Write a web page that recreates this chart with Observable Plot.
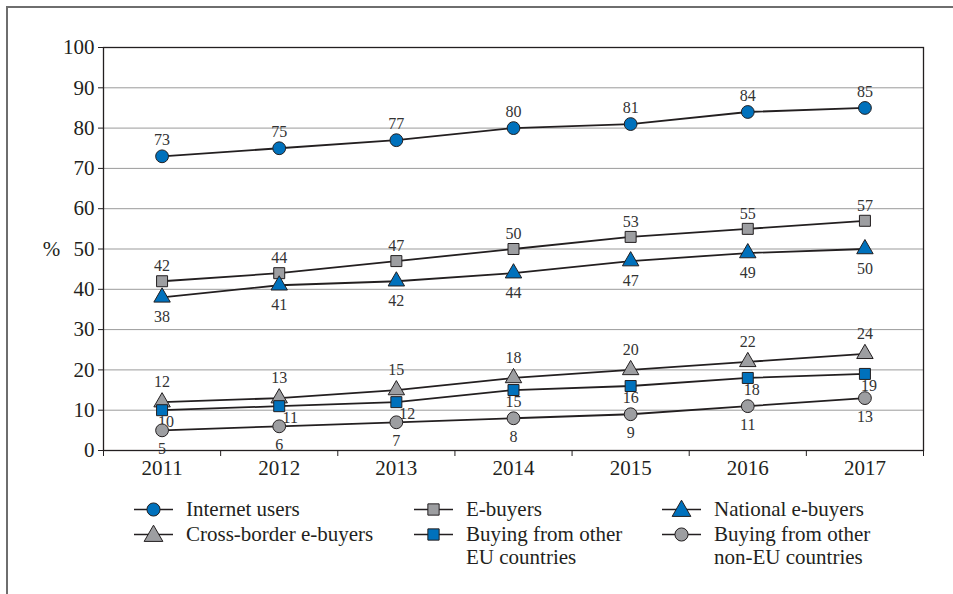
<!DOCTYPE html>
<html>
<head>
<meta charset="utf-8">
<script src="https://cdn.jsdelivr.net/npm/d3@7"></script>
<script src="https://cdn.jsdelivr.net/npm/@observablehq/plot@0.6"></script>
<style>
  html, body { margin: 0; padding: 0; background: #fff; }
  #wrap { position: relative; width: 953px; height: 594px; overflow: hidden; font-family: "Liberation Serif", Tinos, "Times New Roman", Times, serif; color: #231f20; }
  #border { position: absolute; left: 6px; top: 6px; width: 960px; height: 600px; border-top: 2px solid #6e6e6e; border-left: 2px solid #6e6e6e; }
  #chart { position: absolute; left: 0; top: 0; }
  #chart svg text { font-family: "Liberation Serif", Tinos, "Times New Roman", Times, serif; }
  .item { position: absolute; display: flex; align-items: flex-start; font-size: 21px; line-height: 23px; }
  .item svg { flex: none; }
  .item span { margin-left: 13px; white-space: nowrap; }
</style>
</head>
<body>
<div id="wrap">
  <div id="border"></div>
  <div id="chart"></div>
  <div id="legend"></div>
</div>
<script>
// ---- data ----
const years = [2011, 2012, 2013, 2014, 2015, 2016, 2017];
const seriesNames = ["Internet users", "E-buyers", "National e-buyers", "Cross-border e-buyers", "Buying from other EU countries", "Buying from other non-EU countries"];
const legendLabels = ["Internet users", "E-buyers", "National e-buyers", "Cross-border e-buyers", "Buying from other<br>EU countries", "Buying from other<br>non-EU countries"];
const internetUsers = [73, 75, 77, 80, 81, 84, 85];
const eBuyers = [42, 44, 47, 50, 53, 55, 57];
const nationalEBuyers = [38, 41, 42, 44, 47, 49, 50];
const crossBorderEBuyers = [12, 13, 15, 18, 20, 22, 24];
const buyingOtherEU = [10, 11, 12, 15, 16, 18, 19];
const buyingNonEU = [5, 6, 7, 8, 9, 11, 13];
const yTicks = [0, 10, 20, 30, 40, 50, 60, 70, 80, 90, 100];

// ---- styles ----
const FONT = '"Liberation Serif", Tinos, "Times New Roman", Times, serif';
const BLUE = "#0071bc", GRAY = "#9d9ea1", INK = "#231f20";
const seriesValues = [internetUsers, eBuyers, nationalEBuyers, crossBorderEBuyers, buyingOtherEU, buyingNonEU];
const styles = [
  {symbol: "circle", fill: BLUE, r: 6.4, dy: -16},
  {symbol: "square", fill: GRAY, r: 6.2, dy: -15},
  {symbol: "triangle", fill: BLUE, r: 6.1, dy: 20},
  {symbol: "triangle", fill: GRAY, r: 6.1, dy: -20},
  {symbol: "square", fill: BLUE, r: 6.2, dy: 12},
  {symbol: "circle", fill: GRAY, r: 6.4, dy: 19}
];

const rows = seriesNames.flatMap((name, s) => years.map((year, i) => ({series: name, s, year, value: seriesValues[s][i]})));
const boundaries = [years[0] - 0.5, ...years.map(y => y + 0.5)];

const marks = [
  Plot.gridY(yTicks.filter(t => t > 0 && t < 100), {stroke: "#9b9b9b", strokeOpacity: 1, strokeWidth: 1}),
  Plot.frame({stroke: INK, strokeWidth: 1.3}),
  Plot.axisY(yTicks, {tickSize: 5, tickPadding: 4, label: null, stroke: INK}),
  Plot.axisX(boundaries, {tickSize: 6, tickFormat: () => "", label: null, stroke: INK}),
  Plot.axisX(years, {tickSize: 0, tickPadding: 10, tickFormat: d => String(d), label: null}),
  Plot.text(["%"], {frameAnchor: "left", dx: -52, textAnchor: "middle", fontSize: 21})
];

seriesNames.forEach((name, s) => {
  const data = rows.filter(d => d.s === s);
  marks.push(Plot.line(data, {x: "year", y: "value", stroke: INK, strokeWidth: 1.8}));
});
seriesNames.forEach((name, s) => {
  const data = rows.filter(d => d.s === s);
  const st = styles[s];
  marks.push(Plot.dot(data, {x: "year", y: "value", symbol: st.symbol, r: st.r, fill: st.fill, stroke: INK, strokeWidth: 1}));
  if (s === 4) {
    marks.push(Plot.text(data.filter(d => d.year === 2012 || d.year === 2013), {x: "year", y: "value", text: "value", dy: st.dy, dx: 11, fontSize: 16, fill: "#333"}));
    marks.push(Plot.text(data.filter(d => d.year === 2011 || d.year >= 2016), {x: "year", y: "value", text: "value", dy: st.dy, dx: 4, fontSize: 16, fill: "#333"}));
    marks.push(Plot.text(data.filter(d => d.year === 2014 || d.year === 2015), {x: "year", y: "value", text: "value", dy: st.dy, fontSize: 16, fill: "#333"}));
  } else {
    marks.push(Plot.text(data, {x: "year", y: "value", text: "value", dy: st.dy, fontSize: 16, fill: "#333"}));
  }
});

const chart = Plot.plot({
  width: 953,
  height: 485,
  marginLeft: 103,
  marginRight: 30,
  marginTop: 47,
  marginBottom: 35,
  x: {domain: [boundaries[0], boundaries[boundaries.length - 1]]},
  y: {domain: [0, 100]},
  style: {fontFamily: FONT, fontSize: "21px", color: INK, background: "transparent"},
  marks
});
document.getElementById("chart").appendChild(chart);

// ---- legend ----
const colX = [134, 414, 662];
const rowY = [509, 534];
const symbolTypes = {circle: d3.symbolCircle, square: d3.symbolSquare, triangle: d3.symbolTriangle};
const legend = document.getElementById("legend");
seriesNames.forEach((name, s) => {
  const st = styles[s];
  const col = s % 3, row = Math.floor(s / 3);
  const div = document.createElement("div");
  div.className = "item";
  div.style.left = colX[col] + "px";
  div.style.top = (rowY[row] - 11.5) + "px";
  const size = Math.PI * st.r * st.r * (st.symbol === "triangle" ? 1.3 : 1.05);
  const path = d3.symbol(symbolTypes[st.symbol], size)();
  div.innerHTML = `<svg width="39" height="23"><line x1="0" x2="39" y1="11.5" y2="11.5" stroke="${INK}" stroke-width="1.6"/><path d="${path}" transform="translate(19.5,${st.symbol === "triangle" ? 13 : 11.5})" fill="${st.fill}" stroke="${INK}" stroke-width="1"/></svg><span>${legendLabels[s]}</span>`;
  legend.appendChild(div);
});
</script>
</body>
</html>
